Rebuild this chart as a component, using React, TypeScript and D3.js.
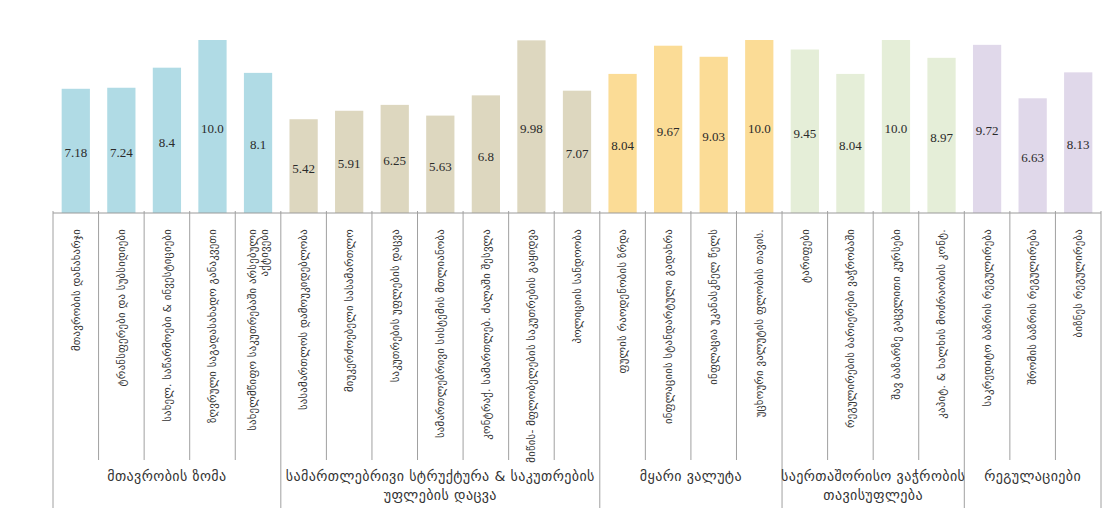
import React from "react";
import * as d3 from "d3";

const groups = [
  "მთავრობის ზომა",
  "სამართლებრივი სტრუქტურა & საკუთრების\nუფლების დაცვა",
  "მყარი ვალუტა",
  "საერთაშორისო ვაჭრობის\nთავისუფლება",
  "რეგულაციები",
];

const groupColors = ["#b0dbe5", "#ddd7bf", "#fbdc96", "#e5eed8", "#e0d8ea"];

const categories = [
  "მთავრობის დანახარჯი",
  "ტრანსფერები და სუბსიდიები",
  "სახელ. საწარმოები & ინვესტიციები",
  "ზღვრული საგადასახადო განაკვეთი",
  "სახელმწიფო საკუთრებაში არსებული\nაქტივები",
  "სასამართლოს დამოუკიდებლობა",
  "მიუკერძოებელი სასამართლო",
  "საკუთრების უფლების დაცვა",
  "სამართლებრივი სისტემის მთლიანობა",
  "კონტრაქ. სამართლებ. ძალაში შესვლა",
  "მიწის- მფლობელების საკუთრების გაყიდვა",
  "პოლიციის სანდოობა",
  "ფულის რაოდენობის ზრდა",
  "ინფლაციის სტანდარტული გადახრა",
  "ინფლაცია უკანასკნელ წელს",
  "უცხოური ვალუტის ფლობის თავის.",
  "ტარიფები",
  "რეგულირების ბარიერები ვაჭრობაში",
  "შავ ბაზარზე გაცვლითი კურსები",
  "კაპიტ. & ხალხის მოძრაობის კონტ.",
  "საკრედიტო ბაზრის რეგულირება",
  "შრომის ბაზრის რეგულირება",
  "ბიზნეს რეგულირება",
];

const categoryGroup = [0, 0, 0, 0, 0, 1, 1, 1, 1, 1, 1, 1, 2, 2, 2, 2, 3, 3, 3, 3, 4, 4, 4];

const values = [
  7.18, 7.24, 8.4, 10.0, 8.1,
  5.42, 5.91, 6.25, 5.63, 6.8, 9.98, 7.07,
  8.04, 9.67, 9.03, 10.0,
  9.45, 8.04, 10.0, 8.97,
  9.72, 6.63, 8.13,
];

const W = 1112;
const H = 525;
const left = 53;
const right = 1101;
const axisY = 213;
const topY = 40;
const catLineBottom = 460;
const groupLineBottom = 508;

const fmt = (v: number) => (Number.isInteger(v) ? v.toFixed(1) : String(v));

export default function App() {
  const idx = categories.map((_, i) => String(i));
  const x = d3.scaleBand<string>().domain(idx).range([left, right]).padding(0);
  const y = d3.scaleLinear().domain([0, 10]).range([axisY, topY]);
  const bw = x.bandwidth();
  const barW = bw * 0.62;

  const spans = groups.map((g, gi) => {
    const members = categories.map((_, i) => i).filter((i) => categoryGroup[i] === gi);
    const x0 = x(String(members[0]))!;
    const x1 = x(String(members[members.length - 1]))! + bw;
    return { g, gi, x0, x1 };
  });

  const boundaries: { x: number; isGroup: boolean }[] = [];
  for (let i = 0; i <= categories.length; i++) {
    const bx = i < categories.length ? x(String(i))! : x(String(categories.length - 1))! + bw;
    const isGroup = i === 0 || i === categories.length || categoryGroup[i] !== categoryGroup[i - 1];
    boundaries.push({ x: bx, isGroup });
  }

  const catFont = 10.8;
  const catLine = 12;
  const groupFont = 14;

  return (
    <svg
      width={W}
      height={H}
      style={{ position: "absolute", left: 0, top: 0, background: "#fff" }}
    >
      {values.map((v, i) => {
        const cx = x(String(i))! + bw / 2;
        return (
          <g key={"b" + i}>
            <rect
              x={cx - barW / 2}
              y={y(v)}
              width={barW}
              height={y(0) - y(v)}
              fill={groupColors[categoryGroup[i]]}
            />
            <text
              x={cx}
              y={(y(v) + y(0)) / 2 + 2}
              dy="0.35em"
              textAnchor="middle"
              fontFamily="'Liberation Serif', 'DejaVu Serif', serif"
              fontSize={13}
              fill="#2a2a2a"
            >
              {fmt(v)}
            </text>
          </g>
        );
      })}

      <line x1={left} x2={right} y1={axisY} y2={axisY} stroke="#9a9a9a" strokeWidth={1} />

      {boundaries.map((b, i) => (
        <line
          key={"s" + i}
          x1={b.x}
          x2={b.x}
          y1={axisY - 2}
          y2={b.isGroup ? groupLineBottom : catLineBottom}
          stroke="#a0a0a0"
          strokeWidth={1}
        />
      ))}

      {categories.map((c, i) => {
        const cx = x(String(i))! + bw / 2;
        const lines = c.split("\n");
        const n = lines.length;
        return (
          <text
            key={"c" + i}
            transform={`translate(${cx},229) rotate(-90)`}
            textAnchor="end"
            fontFamily="'DejaVu Sans', sans-serif"
            fontSize={catFont}
            letterSpacing={0.2}
            fill="#333"
          >
            {lines.map((ln, li) => (
              <tspan key={li} x={0} y={(li - (n - 1) / 2) * catLine} dy="0.35em">
                {ln}
              </tspan>
            ))}
          </text>
        );
      })}

      {spans.map((s) => {
        const lines = s.g.split("\n");
        return (
          <text
            key={"g" + s.gi}
            x={(s.x0 + s.x1) / 2}
            textAnchor="middle"
            fontFamily="'DejaVu Sans', sans-serif"
            fontSize={groupFont}
            letterSpacing={0.4}
            fill="#333"
          >
            {lines.map((ln, li) => (
              <tspan key={li} x={(s.x0 + s.x1) / 2} y={481 + li * 19}>
                {ln}
              </tspan>
            ))}
          </text>
        );
      })}
    </svg>
  );
}
